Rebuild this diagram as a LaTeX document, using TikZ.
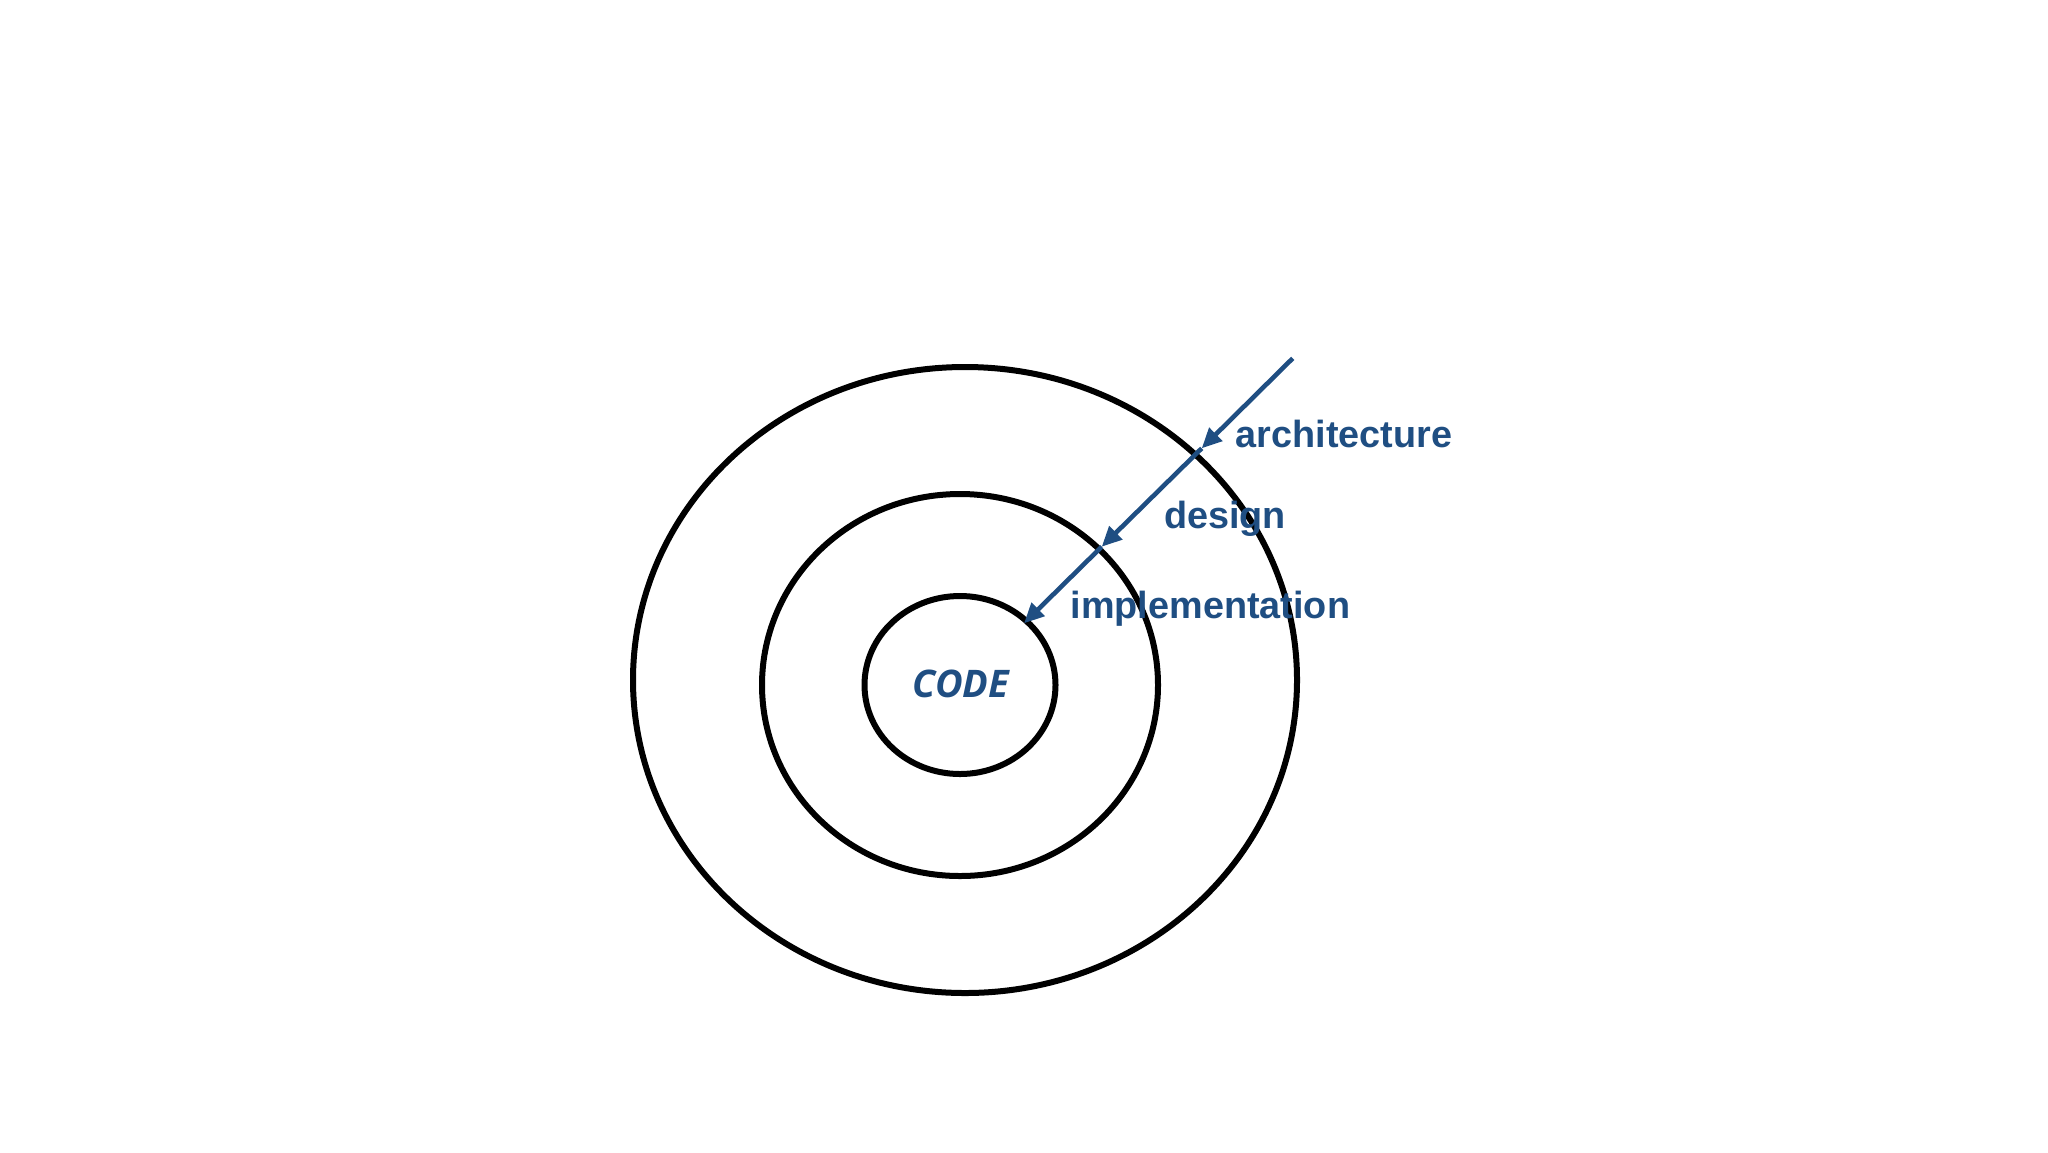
\documentclass[tikz,border=0pt]{standalone}
\usepackage{fontspec}
\setmainfont{Liberation Sans}
\newfontfamily\codefont{Open Sans}
\usetikzlibrary{arrows.meta}

\definecolor{layerblue}{RGB}{31,78,130}

\tikzset{every picture/.style={line width=0.75pt}}
\tikzset{
  ring/.style={draw=black, line width=3pt},
  layerarrow/.style={draw=layerblue, line width=2.3pt, -{Triangle[length=10pt,width=9pt]}},
  layerlabel/.style={anchor=base west, inner sep=0pt, text=layerblue, font=\fontsize{18.9}{22}\selectfont\bfseries}
}

\begin{document}
\begin{tikzpicture}[x=0.5pt,y=0.5pt,yscale=-1,xscale=1]
%set diagram left start at 0, and has height of 1152
\path (0,0) rectangle (2048,1152);

%Shape: Ellipse [id:outer]
\draw [ring] (965,680) ellipse [x radius=332, y radius=313];
%Shape: Ellipse [id:middle]
\draw [ring] (960,685) ellipse [x radius=198, y radius=191];
%Shape: Ellipse [id:inner]
\draw [ring] (960,685) ellipse [x radius=95.5, y radius=89];

%Arrow points
\coordinate (arrowStart) at (1292.7,358.3);
\coordinate (archTip) at (1201.7,448.3);
\coordinate (designTip) at (1101.7,546.7);
\coordinate (implTip) at (1024,623.3);

%Straight Lines [id:arch]
\draw [layerarrow] (arrowStart) -- (archTip);
%Straight Lines [id:design]
\draw [layerarrow] (archTip) -- (designTip);
%Straight Lines [id:impl]
\draw [layerarrow] (designTip) -- (implTip);

% Text Node
\draw (961,697.5) node (codeLabel) [anchor=base][inner sep=0pt][text=layerblue] {\codefont\fontsize{19}{22}\selectfont\bfseries\itshape CODE};
% Text Node
\draw (1235,447.7) node (archLabel) [layerlabel] {architecture};
% Text Node
\draw (1163.3,528.3) node (designLabel) [layerlabel] {design};
% Text Node
\draw (1070,618.3) node (implLabel) [layerlabel] {implementation};

\end{tikzpicture}
\end{document}
